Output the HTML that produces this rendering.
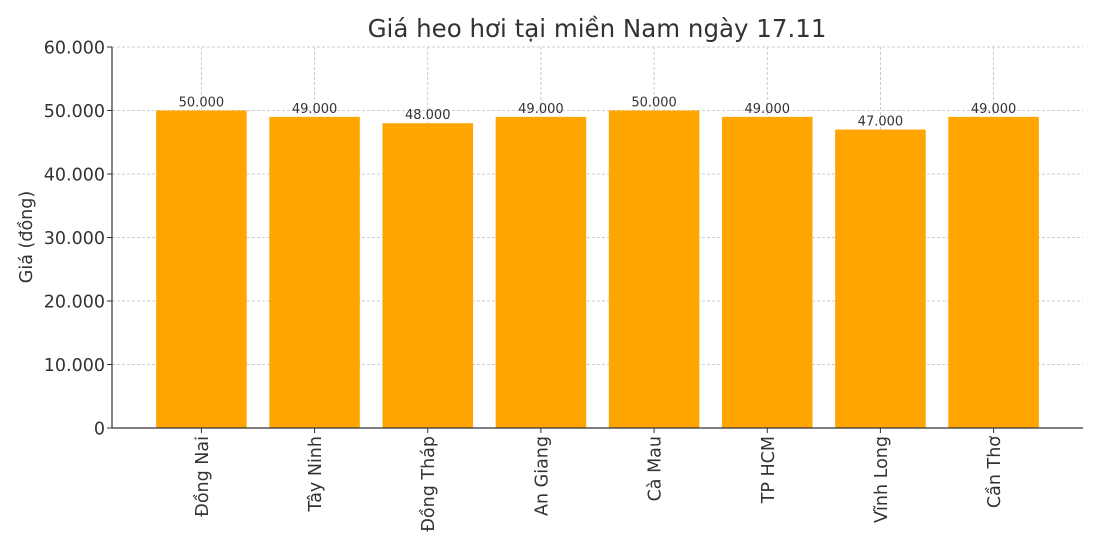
<!DOCTYPE html>
<html><head><meta charset="utf-8"><style>
html,body{margin:0;padding:0;background:#fff;}
svg text{font-family:"DejaVu Sans","Liberation Sans",sans-serif;fill:#333;}
</style></head><body>
<svg id="chart" width="1100" height="550" xmlns="http://www.w3.org/2000/svg">
<text x="597" y="37" font-size="24.5" text-anchor="middle">Giá heo hơi tại miền Nam ngày 17.11</text>
<text transform="translate(32,237) rotate(-90)" font-size="17.5" text-anchor="middle">Giá (đồng)</text>
<g id="grid"></g><g id="bars"></g><g id="axes"></g>
</svg>
<script>
const categories=["Đồng Nai","Tây Ninh","Đồng Tháp","An Giang","Cà Mau","TP HCM","Vĩnh Long","Cần Thơ"];
const values=[50000,49000,48000,49000,50000,49000,47000,49000];
const valueLabels=["50.000","49.000","48.000","49.000","50.000","49.000","47.000","49.000"];
const yTicks=[0,10000,20000,30000,40000,50000,60000];
const yTickLabels=["0","10.000","20.000","30.000","40.000","50.000","60.000"];
const NS="http://www.w3.org/2000/svg";
const L=112,R=1083,T=47,B=428,yMax=60000;
const xMin=-0.79,xMax=7.79;
function x(i){return L+(i-xMin)/(xMax-xMin)*(R-L);}
function y(v){return B-v/yMax*(B-T);}
const bw=0.8*(R-L)/(xMax-xMin);
function mk(tag,attrs,parent,text){const e=document.createElementNS(NS,tag);for(const k in attrs)e.setAttribute(k,attrs[k]);if(text!==undefined)e.textContent=text;parent.appendChild(e);return e;}
const grid=document.getElementById('grid'),bars=document.getElementById('bars'),axes=document.getElementById('axes');
yTicks.forEach((t,i)=>{
 const g=mk('line',{x1:L,x2:R,y1:y(t),y2:y(t),stroke:'#bdbdbd','stroke-dasharray':'3,2','stroke-width':0.8},grid);
 
 
 mk('line',{x1:L-5,x2:L,y1:y(t),y2:y(t),stroke:'#333'},axes);
 const tl=mk('text',{x:L-7,y:y(t)+6.5,'font-size':17.5,'text-anchor':'end'},axes,yTickLabels[i]);
 
 
});
categories.forEach((c,i)=>{
 const g=mk('line',{x1:x(i),x2:x(i),y1:T,y2:B,stroke:'#bdbdbd','stroke-dasharray':'3,2','stroke-width':0.8},grid);
 
 
 const b=mk('rect',{x:x(i)-bw/2,y:y(values[i]),width:bw,height:B-y(values[i]),fill:'#ffa500'},bars);
 
 
 const vl=mk('text',{x:x(i),y:y(values[i])-4,'font-size':13,'text-anchor':'middle'},bars,valueLabels[i]);
 
 
 mk('line',{x1:x(i),x2:x(i),y1:B,y2:B+5,stroke:'#333'},axes);
 const xl=mk('text',{transform:`translate(${x(i)+6.5},${B+8}) rotate(-90)`,'font-size':17.5,'text-anchor':'end'},axes,c);
 
 
});
mk('line',{x1:L,x2:L,y1:T,y2:B,stroke:'#333','stroke-width':1.2},axes);
mk('line',{x1:L,x2:R,y1:B,y2:B,stroke:'#333','stroke-width':1.2},axes);
</script>
</body></html>
